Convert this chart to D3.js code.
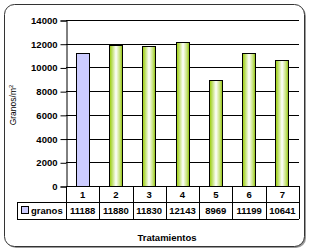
<!DOCTYPE html>
<html>
<head>
<meta charset="utf-8">
<script src="https://cdn.jsdelivr.net/npm/d3@7"></script>
<style>
  body { margin: 0; background: #fff; }
  text { font-family: Arial, "Liberation Sans", sans-serif; }
</style>
</head>
<body>
<div id="chart"></div>
<script>
var categories = ["1", "2", "3", "4", "5", "6", "7"];
var values = [11188, 11880, 11830, 12143, 8969, 11199, 10641];
var yTicks = [0, 2000, 4000, 6000, 8000, 10000, 12000, 14000];
var seriesName = "granos";

var width = 310, height = 252;
var plotLeft = 66, plotRight = 299, plotTop = 20, plotBottom = 186;

var svg = d3.select("#chart").append("svg")
  .attr("width", width)
  .attr("height", height);

var defs = svg.append("defs");
var grad = defs.append("linearGradient")
  .attr("id", "greenBar")
  .attr("x1", "0%").attr("x2", "100%").attr("y1", "0%").attr("y2", "0%");
grad.append("stop").attr("offset", "0%").attr("stop-color", "#99cc00");
grad.append("stop").attr("offset", "18%").attr("stop-color", "#b8dc5a");
grad.append("stop").attr("offset", "50%").attr("stop-color", "#ffffff");
grad.append("stop").attr("offset", "82%").attr("stop-color", "#c2e070");
grad.append("stop").attr("offset", "100%").attr("stop-color", "#88bb00");

// chart border with shadow
svg.append("rect")
  .attr("x", 6).attr("y", 6).attr("width", 300).attr("height", 242)
  .attr("rx", 10).attr("fill", "#9a9a9a");
svg.append("rect")
  .attr("x", 4.5).attr("y", 4.5).attr("width", 300).attr("height", 242)
  .attr("rx", 10).attr("fill", "#fff").attr("stroke", "#333").attr("stroke-width", 1);

var x = d3.scaleBand().domain(categories).range([plotLeft, plotRight]).padding(0);
var y = d3.scaleLinear().domain([0, 14000]).range([plotBottom, plotTop]);

// gridlines
svg.append("g")
  .selectAll("line")
  .data(yTicks.slice(1))
  .enter().append("line")
  .attr("x1", plotLeft).attr("x2", plotRight)
  .attr("y1", function(d) { return Math.round(y(d)) + 0.5; })
  .attr("y2", function(d) { return Math.round(y(d)) + 0.5; })
  .attr("stroke", "#000").attr("stroke-width", 1);

// y axis
var yAxis = svg.append("g")
  .attr("transform", "translate(" + (plotLeft + 0.5) + ",0.5)")
  .call(d3.axisLeft(y).tickValues(yTicks).tickSize(6).tickPadding(3).tickFormat(d3.format("d")));
yAxis.select(".domain").attr("stroke", "#000");
yAxis.selectAll("line").attr("stroke", "#000");
yAxis.selectAll("text")
  .attr("font-size", "9.5px").attr("font-weight", "bold").attr("fill", "#000")
  .attr("font-family", "Arial, 'Liberation Sans', sans-serif");

// bars
var barW = 14;
svg.append("g")
  .selectAll("rect")
  .data(values)
  .enter().append("rect")
  .attr("x", function(d, i) { return Math.round(x(categories[i]) + x.bandwidth() / 2 - barW / 2) + 0.5; })
  .attr("y", function(d) { return Math.round(y(d)) + 0.5; })
  .attr("width", barW - 1)
  .attr("height", function(d) { return Math.round(y(0)) - Math.round(y(d)); })
  .attr("fill", function(d, i) { return i === 0 ? "#ccccff" : "url(#greenBar)"; })
  .attr("stroke", "#000").attr("stroke-width", 1);

// data table
var row1 = plotBottom, row2 = 202, row3 = 219, legendLeft = 17;
var table = svg.append("g").attr("stroke", "#000").attr("stroke-width", 1).attr("fill", "none");
table.append("line").attr("x1", plotLeft).attr("x2", plotRight).attr("y1", row1 + 0.5).attr("y2", row1 + 0.5);
table.append("line").attr("x1", legendLeft).attr("x2", plotRight).attr("y1", row2 + 0.5).attr("y2", row2 + 0.5);
table.append("line").attr("x1", legendLeft).attr("x2", plotRight).attr("y1", row3 + 0.5).attr("y2", row3 + 0.5);
table.append("line").attr("x1", legendLeft + 0.5).attr("x2", legendLeft + 0.5).attr("y1", row2).attr("y2", row3);
table.selectAll(".vl")
  .data(categories.concat(["end"]))
  .enter().append("line")
  .attr("x1", function(d, i) { return Math.round(plotLeft + i * x.bandwidth()) + 0.5; })
  .attr("x2", function(d, i) { return Math.round(plotLeft + i * x.bandwidth()) + 0.5; })
  .attr("y1", row1).attr("y2", row3);

svg.append("g").selectAll("text")
  .data(categories)
  .enter().append("text")
  .attr("x", function(d) { return x(d) + x.bandwidth() / 2; })
  .attr("y", row1 + 12)
  .attr("text-anchor", "middle")
  .attr("font-size", "9.5px").attr("font-weight", "bold")
  .text(function(d) { return d; });

svg.append("g").selectAll("text")
  .data(values)
  .enter().append("text")
  .attr("x", function(d, i) { return x(categories[i]) + x.bandwidth() / 2; })
  .attr("y", row2 + 12)
  .attr("text-anchor", "middle")
  .attr("font-size", "9.5px").attr("font-weight", "bold")
  .text(function(d) { return d; });

// legend key
svg.append("rect")
  .attr("x", 21.5).attr("y", 206.5).attr("width", 7).attr("height", 7)
  .attr("fill", "#ccccff").attr("stroke", "#000");
svg.append("text")
  .attr("x", 31).attr("y", row2 + 12)
  .attr("font-size", "9.5px").attr("font-weight", "bold")
  .text(seriesName);

// axis titles
svg.append("text")
  .attr("x", 167).attr("y", 241)
  .attr("text-anchor", "middle")
  .attr("font-size", "9.5px").attr("font-weight", "bold")
  .text("Tratamientos");

var yt = svg.append("text")
  .attr("transform", "translate(16,105) rotate(-90)")
  .attr("text-anchor", "middle")
  .attr("font-size", "8.5px");
yt.append("tspan").text("Granos/m");
yt.append("tspan").attr("font-size", "6px").attr("dy", "-3").text("2");
</script>
</body>
</html>
